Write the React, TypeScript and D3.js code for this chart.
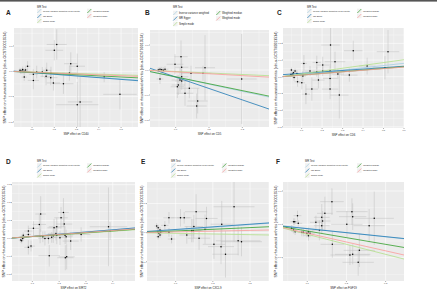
import React from 'react';
import * as d3 from 'd3';

const W = 437;
const H = 300;

// Method names and colours (legend order)
const methodNames = [
  'Inverse variance weighted (fixed effects)',
  'MR Egger',
  'Simple mode',
  'Weighted median',
  'Weighted mode',
];
const methodNamesB = ['Inverse variance weighted', 'MR Egger', 'Simple mode', 'Weighted median', 'Weighted mode'];
const methodColors = ['#a6cee3', '#1f78b4', '#b2df8a', '#33a02c', '#fb9a99'];

// Panel A
const aBx = [0.211,0.200,0.274,0.303,0.046,0.058,0.071,0.080,0.049,0.055,0.064,0.121,0.146,0.166,0.185,0.163,0.184,0.106,0.065,0.106,0.196,0.241,0.268,0.424,0.495,0.316,0.303];
const aBy = [0.106,0.083,0.030,0.020,0.004,0.007,0.005,0.020,-0.001,0.001,0.000,-0.003,-0.003,0.004,-0.007,-0.020,-0.025,-0.012,-0.023,-0.036,-0.046,-0.049,-0.007,-0.023,-0.091,-0.121,-0.132];
const aSex = [0.045,0.040,0.030,0.035,0.008,0.010,0.010,0.012,0.008,0.009,0.010,0.020,0.025,0.020,0.030,0.025,0.030,0.020,0.012,0.025,0.030,0.045,0.035,0.030,0.075,0.055,0.095];
const aSey = [0.060,0.040,0.045,0.050,0.010,0.012,0.012,0.020,0.010,0.012,0.012,0.025,0.020,0.030,0.025,0.035,0.030,0.020,0.015,0.035,0.030,0.040,0.030,0.020,0.060,0.100,0.090];
const aSlopes = [-0.060,-0.068,-0.028,-0.045,-0.035];
const aEggerInt = 0.002;

// Panel B
const bBx = [0.116,0.098,0.118,0.188,0.053,0.048,0.058,0.063,0.053,0.068,0.146,0.182,0.298,0.118,0.113,0.108,0.105,0.118,0.128,0.141,0.166,0.163];
const bBy = [0.053,0.023,0.011,0.009,0.003,0.000,0.001,-0.001,-0.036,0.003,-0.013,-0.013,-0.036,-0.027,-0.040,-0.060,-0.067,-0.044,-0.093,-0.073,-0.124,-0.144];
const bSex = [0.020,0.025,0.020,0.030,0.008,0.008,0.010,0.010,0.010,0.010,0.030,0.025,0.045,0.020,0.025,0.020,0.020,0.020,0.025,0.030,0.030,0.030];
const bSey = [0.065,0.040,0.035,0.130,0.010,0.010,0.012,0.012,0.020,0.012,0.030,0.030,0.180,0.030,0.050,0.040,0.045,0.035,0.050,0.040,0.050,0.050];
const bSlopes = [-0.285,-0.457,-0.060,-0.275,-0.075];
const bEggerInt = 0.0175;

// Panel C
const cBx = [0.241,0.352,0.522,0.111,0.174,0.203,0.263,0.420,0.507,0.050,0.068,0.060,0.057,0.048,0.077,0.141,0.174,0.203,0.239,0.277,0.333,0.106,0.063,0.182,0.239,0.080,0.101,0.150,0.239,0.121,0.284];
const cBy = [0.190,0.156,0.150,0.080,0.086,0.070,0.090,0.064,0.054,0.040,0.034,0.024,0.016,0.014,0.020,0.034,0.030,0.034,0.036,0.016,0.010,0.004,-0.004,-0.020,-0.010,-0.030,-0.036,-0.074,-0.074,-0.104,-0.110];
const cSex = [0.045,0.045,0.055,0.015,0.020,0.030,0.050,0.040,0.060,0.008,0.010,0.008,0.008,0.008,0.010,0.025,0.020,0.030,0.030,0.030,0.040,0.015,0.010,0.030,0.035,0.015,0.015,0.030,0.040,0.020,0.045];
const cSey = [0.140,0.060,0.130,0.050,0.040,0.050,0.060,0.050,0.070,0.015,0.015,0.015,0.015,0.015,0.020,0.030,0.030,0.030,0.040,0.030,0.040,0.030,0.020,0.050,0.050,0.030,0.040,0.070,0.060,0.060,0.140];
const cSlopes = [0.134,0.085,0.170,0.100,0.097];
const cEggerInt = 0.012;

// Panel D
const dBx = [0.216,0.207,0.131,0.219,0.384,0.126,0.104,0.085,0.191,0.181,0.066,0.064,0.057,0.060,0.085,0.129,0.139,0.147,0.160,0.172,0.178,0.188,0.191,0.203,0.222,0.226,0.243,0.282,0.390,0.085,0.095,0.163,0.223,0.228];
const dBy = [0.145,0.115,0.136,0.080,0.065,0.078,0.056,0.041,0.065,0.059,0.018,0.000,-0.009,-0.013,0.022,0.013,0.009,0.000,0.000,0.006,0.015,0.028,0.018,0.003,0.018,0.009,-0.015,0.022,0.041,-0.050,-0.043,-0.097,-0.108,-0.103];
const dSex = [0.020,0.025,0.020,0.030,0.070,0.025,0.020,0.015,0.030,0.025,0.008,0.008,0.008,0.008,0.010,0.020,0.020,0.025,0.020,0.020,0.025,0.025,0.030,0.025,0.030,0.025,0.030,0.035,0.030,0.015,0.015,0.040,0.030,0.030];
const dSey = [0.080,0.060,0.100,0.060,0.220,0.060,0.040,0.030,0.050,0.050,0.015,0.015,0.015,0.015,0.020,0.040,0.030,0.040,0.030,0.030,0.040,0.040,0.050,0.040,0.050,0.040,0.050,0.040,0.050,0.040,0.030,0.060,0.070,0.070];
const dSlopes = [0.120,0.125,0.100,0.105,0.110];
const dEggerInt = -0.002;

// Panel E
const eBx = [0.257,0.155,0.082,0.113,0.123,0.183,0.149,0.224,0.179,0.049,0.053,0.058,0.052,0.055,0.058,0.053,0.060,0.071,0.082,0.089,0.130,0.143,0.147,0.163,0.268,0.277,0.203,0.222,0.234];
const eBy = [0.089,0.072,0.051,0.051,0.051,0.049,0.021,0.029,0.012,0.023,0.017,0.009,0.003,-0.002,-0.008,-0.014,0.001,0.025,0.001,-0.022,-0.008,0.007,0.007,-0.019,-0.028,-0.031,-0.040,-0.048,-0.074];
const eSex = [0.055,0.030,0.015,0.025,0.020,0.030,0.025,0.030,0.025,0.006,0.006,0.006,0.006,0.006,0.006,0.006,0.006,0.010,0.010,0.010,0.020,0.025,0.025,0.030,0.060,0.055,0.030,0.035,0.035];
const eSey = [0.120,0.060,0.020,0.030,0.020,0.040,0.040,0.080,0.050,0.010,0.010,0.010,0.010,0.010,0.010,0.010,0.010,0.015,0.015,0.015,0.030,0.040,0.040,0.040,0.050,0.050,0.050,0.060,0.080];
const eSlopes = [0.092,0.090,-0.023,0.058,0.026];
const eEggerInt = 0.002;

// Panel F
const fBx = [0.163,0.075,0.065,0.068,0.077,0.137,0.145,0.214,0.216,0.139,0.122,0.137,0.201,0.258,0.271,0.060,0.065,0.069,0.090,0.099,0.103,0.107,0.086,0.131,0.164,0.233,0.209,0.216,0.230,0.103];
const fBy = [0.068,0.026,0.008,0.008,0.003,0.021,0.033,0.038,0.023,0.010,0.006,-0.004,0.000,-0.004,0.018,-0.012,-0.017,-0.022,-0.024,-0.027,-0.022,-0.027,-0.024,-0.018,-0.060,-0.078,-0.092,-0.090,-0.114,-0.034];
const fSex = [0.030,0.010,0.008,0.008,0.010,0.020,0.020,0.040,0.035,0.020,0.015,0.020,0.040,0.040,0.050,0.008,0.008,0.008,0.010,0.010,0.012,0.012,0.010,0.020,0.030,0.040,0.050,0.045,0.040,0.012];
const fSey = [0.040,0.015,0.010,0.010,0.010,0.040,0.050,0.040,0.040,0.030,0.020,0.025,0.040,0.050,0.080,0.010,0.010,0.010,0.012,0.012,0.012,0.012,0.012,0.030,0.040,0.050,0.030,0.030,0.040,0.015];
const fSlopes = [-0.125,-0.120,-0.300,-0.200,-0.265];
const fEggerInt = -0.001;

// Tick values
const xTicksA = [0.1, 0.2, 0.3, 0.4, 0.5];
const yTicksA = [0.1, 0.0, -0.1, -0.2];
const xTicksB = [0.1, 0.2, 0.3];
const yTicksB = [0.1, 0.0, -0.1, -0.2];
const xTicksC = [0.1, 0.2, 0.3, 0.4, 0.5, 0.6];
const yTicksC = [0.2, 0.1, 0.0, -0.1, -0.2, -0.3];
const xTicksD = [0.1, 0.2, 0.3, 0.4];
const yTicksD = [0.3, 0.2, 0.1, 0.0, -0.1, -0.2];
const xTicksE = [0.1, 0.2, 0.3];
const yTicksE = [0.1, 0.0, -0.1];
const xTicksF = [0.1, 0.2, 0.3];
const yTicksF = [0.1, 0.0, -0.1];

const yTitle = 'SNP effect on rheumatoid arthritis (ebi-a-GCST90013534)';

const FONT = 'Liberation Sans, Arial, sans-serif';

type PanelSpec = {
  id: string;
  label: string;
  labelX: number;
  labelY: number;
  left: number; right: number; top: number; bottom: number;
  xDom: [number, number];
  yDom: [number, number];
  xTicks: number[];
  yTicks: number[];
  xTitle: string;
  yTitleX: number;
  bx: number[]; by: number[]; sex: number[]; sey: number[];
  slopes: number[]; eggerInt: number;
  leg: { x1: number; x2: number; ty: number; rows: number[]; fs: number; names: string[] };
};

const panels: PanelSpec[] = [
  { id: 'A', label: 'A', labelX: 6, labelY: 15, left: 14, right: 138, top: 28, bottom: 127,
    xDom: [0.019, 0.576], yDom: [-0.22, 0.171], xTicks: xTicksA, yTicks: yTicksA,
    xTitle: 'SNP effect on CD40', yTitleX: 4.5,
    bx: aBx, by: aBy, sex: aSex, sey: aSey, slopes: aSlopes, eggerInt: aEggerInt,
    leg: { x1: 37, x2: 87, ty: 7, rows: [11, 16, 21], fs: 2.1, names: methodNames } },
  { id: 'B', label: 'B', labelX: 145, labelY: 15, left: 150, right: 269, top: 30, bottom: 127,
    xDom: [0.023, 0.38], yDom: [-0.228, 0.16], xTicks: xTicksB, yTicks: yTicksB,
    xTitle: 'SNP effect on CD5', yTitleX: 142,
    bx: bBx, by: bBy, sex: bSex, sey: bSey, slopes: bSlopes, eggerInt: bEggerInt,
    leg: { x1: 173, x2: 216, ty: 7, rows: [13, 18.5, 24], fs: 2.6, names: methodNamesB } },
  { id: 'C', label: 'C', labelX: 277, labelY: 15, left: 283, right: 404, top: 28, bottom: 128,
    xDom: [0.009, 0.6], yDom: [-0.307, 0.292], xTicks: xTicksC, yTicks: yTicksC,
    xTitle: 'SNP effect on CD6', yTitleX: 275.5,
    bx: cBx, by: cBy, sex: cSex, sey: cSey, slopes: cSlopes, eggerInt: cEggerInt,
    leg: { x1: 307, x2: 357, ty: 7, rows: [11, 16, 21], fs: 2.1, names: methodNames } },
  { id: 'D', label: 'D', labelX: 6, labelY: 164, left: 12, right: 135, top: 182, bottom: 281,
    xDom: [0.024, 0.483], yDom: [-0.238, 0.315], xTicks: xTicksD, yTicks: yTicksD,
    xTitle: 'SNP effect on SIRT2', yTitleX: 4,
    bx: dBx, by: dBy, sex: dSex, sey: dSey, slopes: dSlopes, eggerInt: dEggerInt,
    leg: { x1: 37, x2: 87, ty: 160.5, rows: [165.5, 170.5, 175.5], fs: 2.1, names: methodNames } },
  { id: 'E', label: 'E', labelX: 141, labelY: 164, left: 147, right: 269, top: 182, bottom: 281,
    xDom: [0.023, 0.351], yDom: [-0.166, 0.174], xTicks: xTicksE, yTicks: yTicksE,
    xTitle: 'SNP effect on CXCL9', yTitleX: 141.5,
    bx: eBx, by: eBy, sex: eSex, sey: eSey, slopes: eSlopes, eggerInt: eEggerInt,
    leg: { x1: 171, x2: 222, ty: 160.5, rows: [165.5, 170.5, 175.5], fs: 2.1, names: methodNames } },
  { id: 'F', label: 'F', labelX: 276, labelY: 164, left: 283, right: 404, top: 182, bottom: 281,
    xDom: [0.038, 0.347], yDom: [-0.17, 0.127], xTicks: xTicksF, yTicks: yTicksF,
    xTitle: 'SNP effect on FGF19', yTitleX: 275.5,
    bx: fBx, by: fBy, sex: fSex, sey: fSey, slopes: fSlopes, eggerInt: fEggerInt,
    leg: { x1: 305, x2: 357, ty: 160.5, rows: [165.5, 170.5, 175.5], fs: 2.1, names: methodNames } },
];

const fmt = (v: number) => (Math.abs(v) < 1e-9 ? '0.0' : d3.format('.1f')(v));

function Panel({ p }: { p: PanelSpec }) {
  const x = d3.scaleLinear().domain(p.xDom).range([p.left, p.right]);
  const y = d3.scaleLinear().domain(p.yDom).range([p.bottom, p.top]);
  const clipId = 'clip' + p.id;
  const xMinor: number[] = [];
  const xs = [...p.xTicks].sort((a, b) => a - b);
  const step = xs.length > 1 ? xs[1] - xs[0] : 0.1;
  for (let v = xs[0] - step / 2; v < p.xDom[1]; v += step) if (v > p.xDom[0]) xMinor.push(v);
  const ys = [...p.yTicks].sort((a, b) => a - b);
  const ystep = ys.length > 1 ? ys[1] - ys[0] : 0.1;
  const yMinor: number[] = [];
  for (let v = ys[0] - ystep / 2; v < p.yDom[1]; v += ystep) if (v > p.yDom[0]) yMinor.push(v);

  const lines = p.slopes.map((s, i) => {
    const b0 = i === 1 ? p.eggerInt : 0;
    return { x1: x(p.xDom[0]), y1: y(b0 + s * p.xDom[0]), x2: x(p.xDom[1]), y2: y(b0 + s * p.xDom[1]), c: methodColors[i] };
  });
  const drawOrder = [0, 1, 2, 3, 4];
  const legendOrder = [
    { i: 0, col: 0, row: 0 }, { i: 1, col: 0, row: 1 }, { i: 2, col: 0, row: 2 },
    { i: 3, col: 1, row: 0 }, { i: 4, col: 1, row: 1 },
  ];
  const keyS = 4.6;
  const cy = (p.top + p.bottom) / 2;
  const cx = (p.left + p.right) / 2;
  return (
    <g>
      <defs>
        <clipPath id={clipId}>
          <rect x={p.left} y={p.top} width={p.right - p.left} height={p.bottom - p.top} />
        </clipPath>
      </defs>
      <text x={p.labelX} y={p.labelY} fontSize={6.5} fontWeight="bold" fontFamily={FONT} fill="#222">{p.label}</text>
      {/* Legend */}
      <text x={p.leg.x1} y={p.leg.ty + 1} fontSize={2.6} fontFamily={FONT} fill="#222">MR Test</text>
      {legendOrder.map(({ i, col, row }) => {
        const kx = col === 0 ? p.leg.x1 : p.leg.x2;
        const ky = p.leg.rows[row] - keyS / 2;
        return (
          <g key={i}>
            <rect x={kx} y={ky} width={keyS} height={keyS} fill="#f2f2f2" />
            <line x1={kx + 0.3} y1={ky + keyS - 0.3} x2={kx + keyS - 0.3} y2={ky + 0.3} stroke={methodColors[i]} strokeWidth={0.7} />
            <text x={kx + keyS + 1.3} y={p.leg.rows[row] + p.leg.fs * 0.35} fontSize={p.leg.fs} fontFamily={FONT} fill="#222">{p.leg.names[i]}</text>
          </g>
        );
      })}
      {/* Panel background */}
      <rect x={p.left} y={p.top} width={p.right - p.left} height={p.bottom - p.top} fill="#ebebeb" />
      {xMinor.map((v, k) => (
        <line key={'xm' + k} x1={x(v)} x2={x(v)} y1={p.top} y2={p.bottom} stroke="#fff" strokeWidth={0.3} />
      ))}
      {yMinor.map((v, k) => (
        <line key={'ym' + k} y1={y(v)} y2={y(v)} x1={p.left} x2={p.right} stroke="#fff" strokeWidth={0.3} />
      ))}
      {p.xTicks.map((v, k) => (
        <line key={'xg' + k} x1={x(v)} x2={x(v)} y1={p.top} y2={p.bottom} stroke="#fff" strokeWidth={0.6} />
      ))}
      {p.yTicks.map((v, k) => (
        <line key={'yg' + k} y1={y(v)} y2={y(v)} x1={p.left} x2={p.right} stroke="#fff" strokeWidth={0.6} />
      ))}
      <g clipPath={`url(#${clipId})`}>
        {p.bx.map((bx, k) => (
          <g key={'e' + k}>
            <line x1={x(bx)} x2={x(bx)} y1={y(p.by[k] - p.sey[k])} y2={y(p.by[k] + p.sey[k])} stroke="#bebebe" strokeWidth={0.5} />
            <line x1={x(bx - p.sex[k])} x2={x(bx + p.sex[k])} y1={y(p.by[k])} y2={y(p.by[k])} stroke="#bebebe" strokeWidth={0.5} />
          </g>
        ))}
        {p.bx.map((bx, k) => (
          <circle key={'p' + k} cx={x(bx)} cy={y(p.by[k])} r={0.75} fill="#000" />
        ))}
        {drawOrder.map((i) => (
          <line key={'l' + i} x1={lines[i].x1} y1={lines[i].y1} x2={lines[i].x2} y2={lines[i].y2} stroke={lines[i].c} strokeWidth={0.8} />
        ))}
      </g>
      {/* Axes ticks and labels */}
      {p.xTicks.map((v, k) => (
        <g key={'xt' + k}>
          <line x1={x(v)} x2={x(v)} y1={p.bottom} y2={p.bottom + 1} stroke="#333" strokeWidth={0.4} />
          <text x={x(v)} y={p.bottom + 3.4} fontSize={2.3} textAnchor="middle" fontFamily={FONT} fill="#4d4d4d">{fmt(v)}</text>
        </g>
      ))}
      {p.yTicks.map((v, k) => (
        <g key={'yt' + k}>
          <line x1={p.left - 1} x2={p.left} y1={y(v)} y2={y(v)} stroke="#333" strokeWidth={0.4} />
          <text x={p.left - 1.5} y={y(v) + 0.8} fontSize={2.3} textAnchor="end" fontFamily={FONT} fill="#4d4d4d">{fmt(v)}</text>
        </g>
      ))}
      <text x={cx} y={p.bottom + 7.5} fontSize={2.8} textAnchor="middle" fontFamily={FONT} fill="#222">{p.xTitle}</text>
      <text transform={`translate(${p.yTitleX + 1},${cy}) rotate(-90)`} fontSize={2.8} textAnchor="middle" fontFamily={FONT} fill="#222"
        textLength={(p.bottom - p.top) * 0.93} lengthAdjust="spacingAndGlyphs">{yTitle}</text>
    </g>
  );
}

export default function App() {
  return (
    <svg width={W} height={H} viewBox={`0 0 ${W} ${H}`} style={{ position: 'absolute', left: 0, top: 0, background: '#fff' }}>
      <rect x={0} y={0} width={W} height={H} fill="#fff" />
      <rect x={0} y={0} width={W} height={1.6} fill="#555" />
      {panels.map((p) => (
        <Panel key={p.id} p={p} />
      ))}
    </svg>
  );
}
